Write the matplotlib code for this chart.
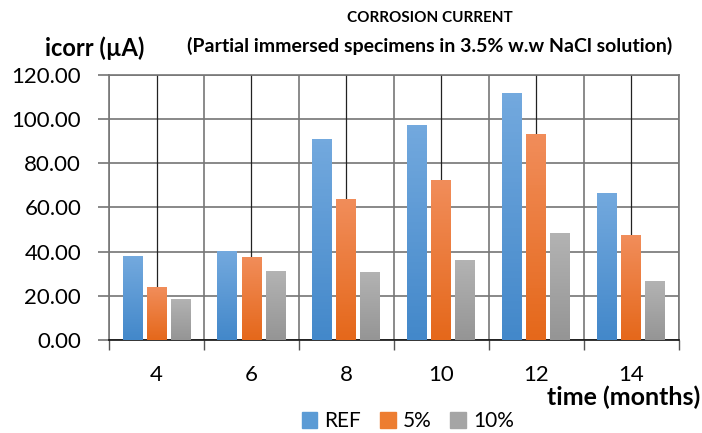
import numpy as np
import matplotlib.pyplot as plt
from matplotlib.colors import LinearSegmentedColormap
from matplotlib.patches import Patch

# data
months = ['4', '6', '8', '10', '12', '14']
ref = [38.0, 40.2, 91.0, 97.4, 111.8, 66.6]
p5 = [24.0, 37.6, 63.8, 72.5, 93.3, 47.5]
p10 = [18.6, 31.2, 30.8, 36.2, 48.5, 26.7]
series = ['REF', '5%', '10%']

# gradient colours (top, bottom)
grads = [('#73a9de', '#4388ca'), ('#f18d5a', '#e5681b'), ('#b3b3b3', '#959595')]
legend_cols = ['#5b9bd5', '#ed7d31', '#a5a5a5']

plt.rcParams['font.family'] = ['Lato', 'DejaVu Sans']

fig = plt.figure(figsize=(7.02, 4.33), dpi=100)
ax = fig.add_axes([0.1553, 0.2148, 0.8117, 0.612])

x = np.arange(len(months))
w = 0.21
step = 0.253
for i, vals in enumerate([ref, p5, p10]):
    cmap = LinearSegmentedColormap.from_list('g%d' % i, [grads[i][1], grads[i][0]])
    bars = ax.bar(x + (i - 1) * step, vals, w, color=grads[i][0], zorder=3)
    for b in bars:
        bx, by = b.get_x(), b.get_y()
        bw, bh = b.get_width(), b.get_height()
        im = ax.imshow(np.linspace(0, 1, 64).reshape(-1, 1), cmap=cmap, aspect='auto',
                       extent=[bx, bx + bw, by, by + bh], origin='lower', zorder=3.5)
        im.set_clip_path(b)

ax.set_xlim(-0.5, len(months) - 0.5)
ax.set_ylim(0, 120)
ax.set_yticks(np.arange(0, 121, 20))
ax.set_yticklabels(['%.2f' % v for v in np.arange(0, 121, 20)], fontsize=16)
ax.set_xticks(x)
ax.set_xticklabels(months, fontsize=16)
ax.set_xticks(np.arange(-0.5, len(months), 1), minor=True)
ax.tick_params(axis='x', which='major', length=0, pad=18)
ax.tick_params(axis='x', which='minor', length=7, color='#555555', width=1)
ax.tick_params(axis='y', length=8, color='#888888', width=1.4, pad=12)

# gridlines
ax.grid(axis='y', color='#888888', linewidth=1.4, zorder=0)
for xv in x:
    ax.axvline(xv, color='#222222', linewidth=0.9, zorder=1)
for xv in np.arange(-0.5, len(months), 1):
    ax.axvline(xv, color='#777777', linewidth=1.2, zorder=1)
ax.set_axisbelow(True)

for s in ['top', 'right', 'left']:
    ax.spines[s].set_color('#777777')
    ax.spines[s].set_linewidth(1.2)
ax.spines['bottom'].set_color('#111111')
ax.spines['bottom'].set_linewidth(1.2)

fig.text(0.612, 0.958, 'CORROSION CURRENT', ha='center', va='center',
         fontsize=11, fontweight='bold')
fig.text(0.612, 0.895, '(Partial immersed specimens in 3.5% w.w NaCl solution)',
         ha='center', va='center', fontsize=14, fontweight='bold')
fig.text(0.135, 0.889, 'icorr (\u00b5A)', ha='center', va='center',
         fontsize=17, fontweight='bold')
fig.text(0.997, 0.083, 'time (months)', ha='right', va='center',
         fontsize=18, fontweight='bold')

handles = [Patch(color=c) for c in legend_cols]
fig.legend(handles, series, loc='center', bbox_to_anchor=(0.581, 0.027), ncol=3,
           frameon=False, fontsize=15, handlelength=0.75, handleheight=0.75,
           handletextpad=0.35, columnspacing=0.9, borderaxespad=0)

fig.savefig('out.png', dpi=100)
